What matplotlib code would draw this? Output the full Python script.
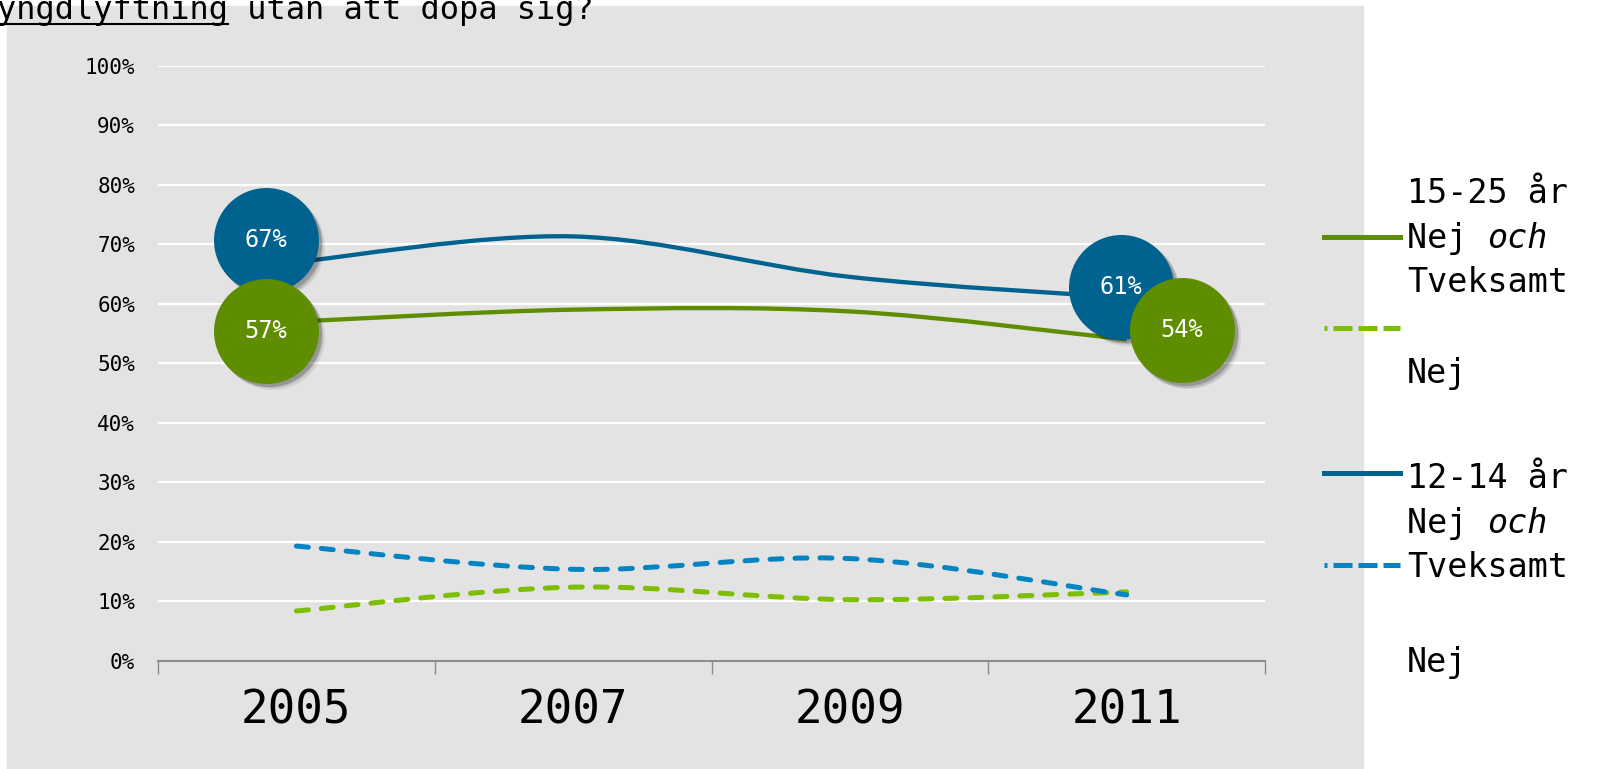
import numpy as np
import matplotlib
matplotlib.use("Agg")
import matplotlib.pyplot as plt
from matplotlib.path import Path
from matplotlib.patches import PathPatch, Rectangle
from matplotlib.lines import Line2D
from matplotlib.transforms import offset_copy

plt.rcParams['font.family'] = ['DejaVu Sans Mono', 'DejaVu Sans']

# data
years = ['2005', '2007', '2009', '2011']
y1525_nej_tveksamt = [0.57, 0.59, 0.587, 0.54]
y1525_nej = [0.084, 0.124, 0.103, 0.116]
y1214_nej_tveksamt = [0.67, 0.713, 0.645, 0.61]
y1214_nej = [0.193, 0.154, 0.172, 0.111]
yticks = np.arange(0, 1.01, 0.1)

title_underlined = "yngdlyftning"
title_rest = " utan att dopa sig?"
legend_lines = [
    ("15-25 år", None), ("Nej ", "och"), ("Tveksamt", None), ("Nej", None),
    ("12-14 år", None), ("Nej ", "och"), ("Tveksamt", None), ("Nej", None),
]

dark_green = '#5E8E00'
light_green = '#7DBE00'
dark_blue = '#00628F'
light_blue = '#0284C2'
panel = '#E3E3E3'

W, H = 1602, 769
fig = plt.figure(figsize=(W / 100, H / 100), dpi=100)


def fx(x):
    return x / W


def fy(y):
    return 1 - y / H


fig.patches.append(Rectangle((fx(7), 0), fx(1363 - 7), 1 - 6 / H,
                             transform=fig.transFigure, color=panel, zorder=-5))

ax = fig.add_axes([fx(158), fy(661), fx(1265 - 158), (661 - 65.5) / H])
ax.patch.set_visible(False)
ax.set_xlim(-0.5, 3.5)
ax.set_ylim(0, 1)


def smooth_path(vals):
    # Excel style smoothed line: Catmull-Rom as cubic Bezier segments
    pts = [(i, v) for i, v in enumerate(vals)]
    p = [pts[0]] + pts + [pts[-1]]
    verts = [pts[0]]
    codes = [Path.MOVETO]
    for i in range(1, len(p) - 2):
        p0, p1, p2, p3 = np.array(p[i - 1]), np.array(p[i]), np.array(p[i + 1]), np.array(p[i + 2])
        c1 = p1 + (p2 - p0) / 6
        c2 = p2 - (p3 - p1) / 6
        verts += [tuple(c1), tuple(c2), tuple(p2)]
        codes += [Path.CURVE4] * 3
    return Path(verts, codes)


lw = 3.6
ax.add_patch(PathPatch(smooth_path(y1525_nej), fill=False, ec=light_green, lw=lw,
                       ls=(0, (2.4, 2.6)), capstyle='round', zorder=3))
ax.add_patch(PathPatch(smooth_path(y1214_nej), fill=False, ec=light_blue, lw=lw,
                       ls=(0, (2.4, 2.6)), capstyle='round', zorder=3))
ax.add_patch(PathPatch(smooth_path(y1214_nej_tveksamt), fill=False, ec=dark_blue,
                       lw=3.1, zorder=3))
ax.add_patch(PathPatch(smooth_path(y1525_nej_tveksamt), fill=False, ec=dark_green,
                       lw=3.1, zorder=3))

# grid and axes
ax.set_yticks(yticks)
ax.set_yticklabels([f"{int(round(t * 100))}%" for t in yticks], fontsize=15)
for t in yticks[1:]:
    ax.axhline(t, color='white', lw=1.6, zorder=1)
ax.tick_params(axis='y', length=0, pad=16.5)
ax.set_xticks([-0.5, 0.5, 1.5, 2.5, 3.5])
ax.set_xticklabels([])
ax.tick_params(axis='x', which='major', length=9.4, width=1, color='#8C8C8C', direction='out')
ax.set_xticks(range(len(years)), minor=True)
ax.set_xticklabels(years, minor=True, fontsize=33)
ax.tick_params(axis='x', which='minor', length=0, pad=20)
for s in ['left', 'right', 'top']:
    ax.spines[s].set_visible(False)
ax.spines['bottom'].set_color('#8C8C8C')
ax.spines['bottom'].set_linewidth(1.5)

# circular value labels
bubbles = [
    (0, y1214_nej_tveksamt[0], -30.5, 22, dark_blue),
    (3, y1214_nej_tveksamt[3], -5.5, 11, dark_blue),
    (0, y1525_nej_tveksamt[0], -30.5, -9, dark_green),
    (3, y1525_nej_tveksamt[3], 55, 9, dark_green),
]
for k, (i, v, dx, dy, c) in enumerate(bubbles):
    z = 5 + 2 * k
    for sh, a in [(6, 0.08), (4.5, 0.12), (3, 0.18)]:
        tr_s = offset_copy(ax.transData, fig=fig, x=dx + sh, y=dy - sh, units='dots')
        ax.scatter([i], [v], s=5715, color='black', alpha=a, lw=0, transform=tr_s,
                   zorder=z, clip_on=False)
    tr = offset_copy(ax.transData, fig=fig, x=dx, y=dy, units='dots')
    ax.scatter([i], [v], s=5715, color=c, lw=0, transform=tr, zorder=z + 1, clip_on=False)
    ax.text(i, v, f"{int(round(v * 100))}%", transform=tr, color='white', fontsize=17,
            ha='center', va='center', zorder=z + 1)

# title (cut off at the top-left as in the original)
title_fs = 23
title_pitch = 0.602 * title_fs * 100 / 72
fig.text(fx(-3), fy(19), title_underlined + title_rest, fontsize=title_fs,
         va='baseline', ha='left')
fig.add_artist(Line2D([0, fx(-3 + len(title_underlined) * title_pitch)], [fy(24), fy(24)],
                      color='black', lw=1.5))

# legend, drawn by hand
leg_x0, leg_x1 = 1324, 1400
leg_items = [(237, dark_green, '-'), (328, light_green, '--'),
             (473, dark_blue, '-'), (565, light_blue, '--')]
for y, c, style in leg_items:
    if style == '-':
        fig.add_artist(Line2D([fx(leg_x0), fx(leg_x1)], [fy(y), fy(y)], color=c, lw=3.6))
    else:
        fig.add_artist(Line2D([fx(leg_x0), fx(leg_x1)], [fy(y), fy(y)], color=c, lw=3.6,
                              ls=(3.2, (3.8, 1.2)), solid_capstyle='butt'))

leg_fs = 24
pitch = 0.602 * leg_fs * 100 / 72
baselines = [203, 248, 292, 383, 488, 533, 577, 672]
for (txt, ital), yb in zip(legend_lines, baselines):
    fig.text(fx(1407), fy(yb), txt, fontsize=leg_fs, va='baseline', ha='left')
    if ital:
        fig.text(fx(1407 + len(txt) * pitch), fy(yb), ital, fontsize=leg_fs,
                 va='baseline', ha='left', style='italic')

fig.savefig('out.png', dpi=100)
